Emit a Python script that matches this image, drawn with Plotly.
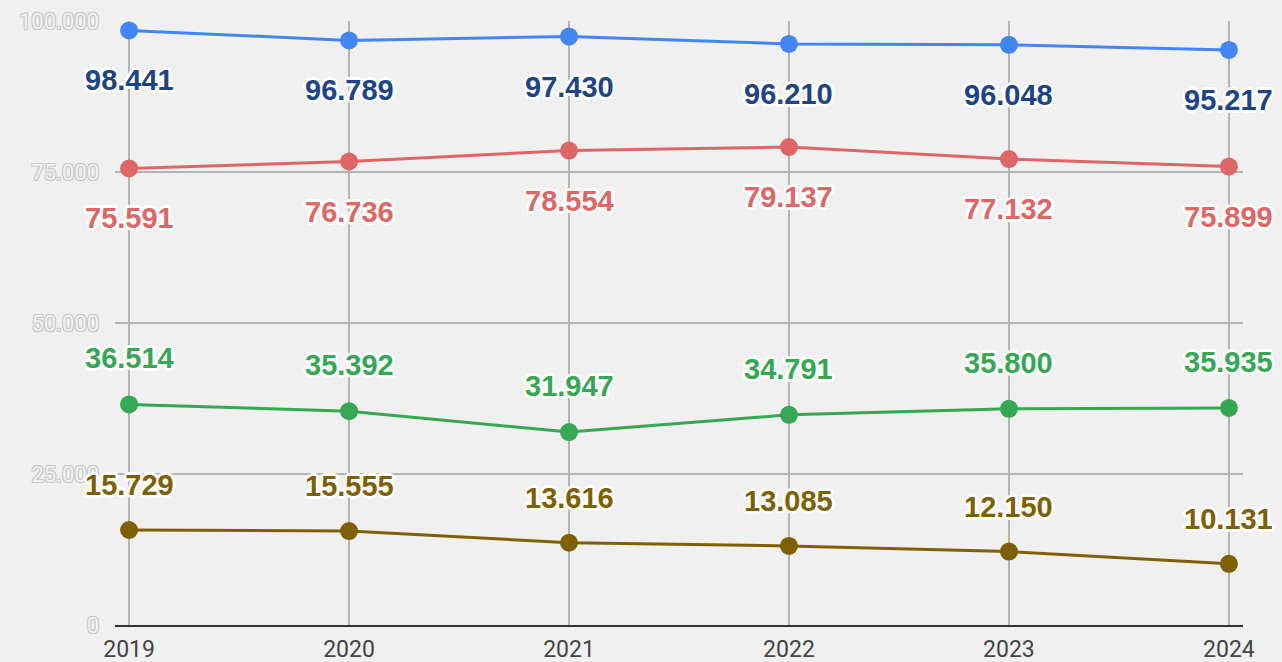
import plotly.graph_objects as go

years = [2019, 2020, 2021, 2022, 2023, 2024]
blue_vals = [98.441, 96.789, 97.430, 96.210, 96.048, 95.217]
red_vals = [75.591, 76.736, 78.554, 79.137, 77.132, 75.899]
green_vals = [36.514, 35.392, 31.947, 34.791, 35.800, 35.935]
brown_vals = [15.729, 15.555, 13.616, 13.085, 12.150, 10.131]

y_tickvals = [0, 25, 50, 75, 100]
y_ticktext = ["0", "25.000", "50.000", "75.000", "100.000"]

series = [
    (blue_vals, "#4285f4", "#1c4587", -50),
    (red_vals, "#e06666", "#e06666", -50),
    (green_vals, "#34a853", "#34a853", 46),
    (brown_vals, "#7f6000", "#7f6000", 45),
]

def fmt(v):
    return f"{v:.3f}"

outline = ("-2px -2px 0 #fff, 2px -2px 0 #fff, -2px 2px 0 #fff, 2px 2px 0 #fff, "
           "0 -3px 0 #fff, 0 3px 0 #fff, -3px 0 0 #fff, 3px 0 0 #fff, "
           "0 0 4px #ddd")

fig = go.Figure()
annotations = []
for vals, line_color, label_color, shift in series:
    fig.add_trace(go.Scatter(
        x=years, y=vals, mode="lines+markers",
        line=dict(color=line_color, width=3),
        marker=dict(color=line_color, size=18),
        showlegend=False, hoverinfo="skip",
    ))
    for x, v in zip(years, vals):
        annotations.append(dict(
            x=x, y=v, xref="x", yref="y", text=fmt(v), showarrow=False,
            yshift=shift,
            font=dict(family="Liberation Sans, Arial, sans-serif", size=29,
                      color=label_color, weight="bold", shadow=outline),
        ))

fig.update_layout(
    width=1282, height=662,
    margin=dict(l=115, r=39, t=21, b=37),
    paper_bgcolor="#f0f0f0", plot_bgcolor="#f0f0f0",
    annotations=annotations,
    xaxis=dict(
        range=[2018.936, 2024.064], tickvals=years, ticktext=[str(y) for y in years],
        showgrid=True, gridcolor="#b4b4b4", gridwidth=2,
        showline=True, linecolor="#333333", linewidth=2,
        zeroline=False, ticks="", automargin=False,
        tickfont=dict(family="Roboto, Liberation Sans, sans-serif", size=23, color="#444444"),
        ticklabelstandoff=2,
    ),
    yaxis=dict(
        range=[0, 100], tickvals=y_tickvals, ticktext=y_ticktext,
        showgrid=True, gridcolor="#b4b4b4", gridwidth=2,
        zeroline=False, showline=False, ticks="", automargin=False,
        tickfont=dict(family="Roboto, Liberation Sans, sans-serif", size=22, color="#f2f2f2",
                      shadow="-1px -1px 0 #c8c8c8, 1px -1px 0 #c8c8c8, -1px 1px 0 #c8c8c8, 1px 1px 0 #c8c8c8"),
        ticklabelstandoff=15,
    ),
)

fig.write_html("out.html", config={"displayModeBar": False},
               post_script="document.body.style.margin='0';document.body.style.overflow='hidden';")
